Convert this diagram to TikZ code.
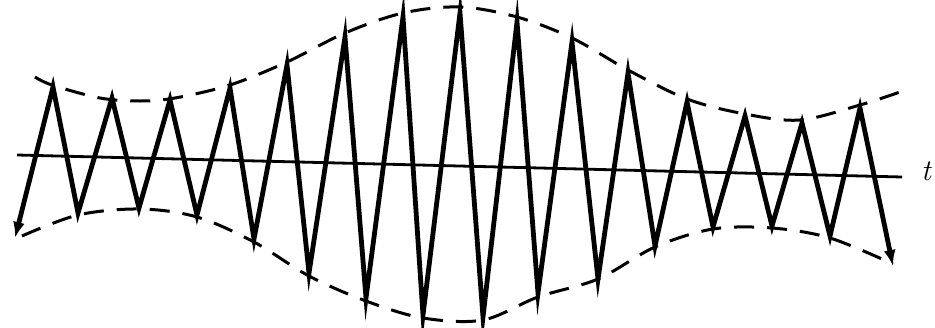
\documentclass[tikz,border=0pt]{standalone}
\usetikzlibrary{arrows.meta}
\begin{document}
\begin{tikzpicture}[x=1pt,y=-1pt,
  wave/.style={line width=4.8pt, line join=miter, miter limit=20, {Latex[length=16pt,width=12pt]}-{Latex[length=16pt,width=12pt]}},
  axisline/.style={line width=2.8pt},
  envelope/.style={line width=3pt, dash pattern=on 20pt off 13pt},
  lbl/.style={font=\fontsize{30}{30}\selectfont\itshape, inner sep=0pt}]
\useasboundingbox (0,0) rectangle (935,327);
% time axis
\coordinate (axL) at (17,155);
\coordinate (axR) at (902,177);
\draw[axisline] (axL) -- (axR);
% upper envelope
\draw[envelope] plot[smooth, tension=0.55] coordinates {
 (35,77) (52,85) (100,98) (140,101) (175,98) (230,85) (287,62) (345,33)
 (403,13) (460,7) (517,17) (572,38) (628,70) (687,99) (745,114) (800,120) (860,105) (900,92)};
% lower envelope
\draw[envelope] plot[smooth, tension=0.55] coordinates {
 (22,236) (78,215) (140,209) (197,217) (254,242) (309,276) (366,301)
 (423,318) (483,320) (538,297) (598,279) (655,247) (713,229) (772,228) (830,238) (893,264)};
% modulated carrier
\draw[wave] plot coordinates {
 (15,238) (53,87) (78,213) (112,98) (139,208) (170,100) (197,215) (230,88)
 (254,239) (287,65) (309,273) (345,37) (366,298) (403,17) (423,315) (460,13)
 (483,317) (517,22) (538,293) (572,42) (598,279) (628,73) (655,246) (687,102)
 (713,227) (745,116) (772,226) (802,123) (830,236) (860,108) (893,266)};
\node[lbl, anchor=base west] (tl) at (921,180) {t};
\end{tikzpicture}
\end{document}
